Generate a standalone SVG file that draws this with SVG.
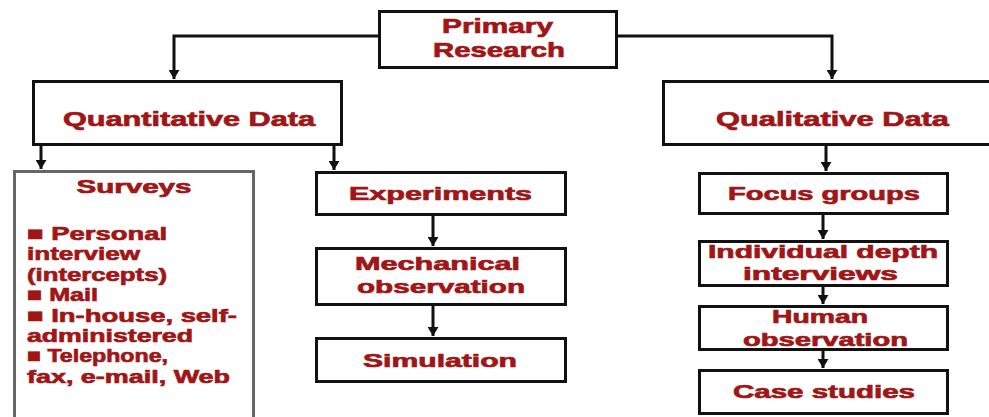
<svg xmlns="http://www.w3.org/2000/svg" width="989" height="417" viewBox="0 0 989 417">
<style>
.box{fill:#ffffff;stroke:#111111;stroke-width:3}
.gbox{fill:#ffffff;stroke:#666666;stroke-width:3}
.t{font-family:"Liberation Sans","DejaVu Sans",Arial,sans-serif;font-weight:bold;fill:#a01616;stroke:#a01616;stroke-width:0.7;text-anchor:middle}
.l{font-family:"Liberation Sans","DejaVu Sans",Arial,sans-serif;font-weight:bold;fill:#a01616;stroke:#a01616;stroke-width:0.7;font-size:19px}
.c{fill:none;stroke:#111111;stroke-width:3}
</style>
<defs>
<marker id="ah" markerUnits="userSpaceOnUse" markerWidth="9" markerHeight="11" refX="9" refY="5.5" orient="auto">
<path d="M0,0 L9,5.5 L0,11 z" fill="#111111"/>
</marker>
</defs>
<rect width="989" height="417" fill="#ffffff"/>
<g id="connectors">
<path class="c" d="M379,36 H174 V79" marker-end="url(#ah)"/>
<path class="c" d="M617,36 H832 V79" marker-end="url(#ah)"/>
<path class="c" d="M41,145 V169" marker-end="url(#ah)"/>
<path class="c" d="M334,145 V170" marker-end="url(#ah)"/>
<path class="c" d="M826,145 V171" marker-end="url(#ah)"/>
<path class="c" d="M433,215 V246" marker-end="url(#ah)"/>
<path class="c" d="M433,305 V336" marker-end="url(#ah)"/>
<path class="c" d="M823,214 V239" marker-end="url(#ah)"/>
<path class="c" d="M823,286 V304" marker-end="url(#ah)"/>
<path class="c" d="M823,350 V368" marker-end="url(#ah)"/>
</g>
<g id="primary">
<rect class="box" x="379.5" y="11.5" width="237" height="56"/>
<text class="t" font-size="21" x="497.5" y="33" textLength="111" lengthAdjust="spacingAndGlyphs">Primary</text>
<text class="t" font-size="21" x="499" y="57" textLength="132" lengthAdjust="spacingAndGlyphs">Research</text>
</g>
<g id="quantitative">
<rect class="box" x="33.5" y="81.5" width="308" height="63"/>
<text class="t" font-size="21" x="189" y="126" textLength="252" lengthAdjust="spacingAndGlyphs">Quantitative Data</text>
</g>
<g id="qualitative">
<rect class="box" x="663.5" y="81.5" width="340" height="63"/>
<text class="t" font-size="21" x="832.5" y="126" textLength="233" lengthAdjust="spacingAndGlyphs">Qualitative Data</text>
</g>
<g id="surveys">
<rect class="gbox" x="14.5" y="171.5" width="239" height="260"/>
<text class="t" font-size="19" x="134" y="193" textLength="115" lengthAdjust="spacingAndGlyphs">Surveys</text>
<text class="l" x="27" y="240" textLength="140" lengthAdjust="spacingAndGlyphs">■ Personal</text>
<text class="l" x="27" y="260.4" textLength="113" lengthAdjust="spacingAndGlyphs">interview</text>
<text class="l" x="27" y="280.8" textLength="140" lengthAdjust="spacingAndGlyphs">(intercepts)</text>
<text class="l" x="27" y="301.2" textLength="71" lengthAdjust="spacingAndGlyphs">■ Mail</text>
<text class="l" x="27" y="321.6" textLength="210" lengthAdjust="spacingAndGlyphs">■ In-house, self-</text>
<text class="l" x="27" y="342" textLength="166" lengthAdjust="spacingAndGlyphs">administered</text>
<text class="l" x="27" y="362.4" textLength="141" lengthAdjust="spacingAndGlyphs">■ Telephone,</text>
<text class="l" x="27" y="382.8" textLength="203" lengthAdjust="spacingAndGlyphs">fax, e-mail, Web</text>
</g>
<g id="experiments">
<rect class="box" x="316.5" y="172.5" width="249" height="42"/>
<text class="t" font-size="19" x="440.5" y="200" textLength="183" lengthAdjust="spacingAndGlyphs">Experiments</text>
</g>
<g id="mechanical">
<rect class="box" x="316.5" y="248.5" width="249" height="56"/>
<text class="t" font-size="19" x="437.5" y="270" textLength="165" lengthAdjust="spacingAndGlyphs">Mechanical</text>
<text class="t" font-size="19" x="441" y="293" textLength="168" lengthAdjust="spacingAndGlyphs">observation</text>
</g>
<g id="simulation">
<rect class="box" x="316.5" y="338.5" width="249" height="43"/>
<text class="t" font-size="19" x="440" y="367" textLength="154" lengthAdjust="spacingAndGlyphs">Simulation</text>
</g>
<g id="focus">
<rect class="box" x="699.5" y="173.5" width="248" height="40"/>
<text class="t" font-size="19" x="824" y="200" textLength="192" lengthAdjust="spacingAndGlyphs">Focus groups</text>
</g>
<g id="individual">
<rect class="box" x="699.5" y="241.5" width="248" height="44"/>
<text class="t" font-size="19" x="823" y="258" textLength="230" lengthAdjust="spacingAndGlyphs">Individual depth</text>
<text class="t" font-size="19" x="820.5" y="280" textLength="155" lengthAdjust="spacingAndGlyphs">interviews</text>
</g>
<g id="human">
<rect class="box" x="699.5" y="306.5" width="248" height="43"/>
<text class="t" font-size="19" x="820" y="323" textLength="96" lengthAdjust="spacingAndGlyphs">Human</text>
<text class="t" font-size="19" x="825.5" y="346" textLength="165" lengthAdjust="spacingAndGlyphs">observation</text>
</g>
<g id="case">
<rect class="box" x="699.5" y="370.5" width="248" height="43"/>
<text class="t" font-size="19" x="824" y="398" textLength="182" lengthAdjust="spacingAndGlyphs">Case studies</text>
</g>
</svg>
